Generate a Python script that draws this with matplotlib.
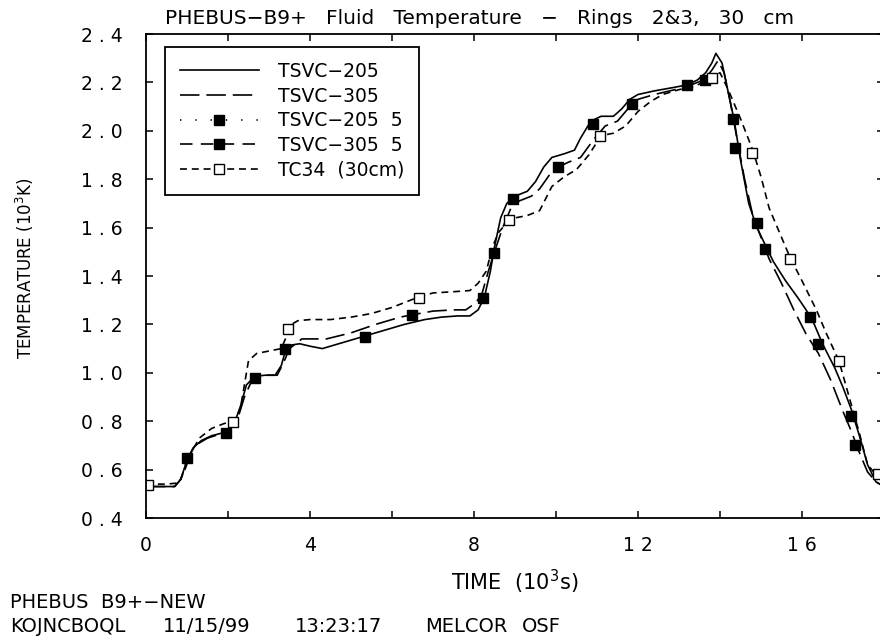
import matplotlib
matplotlib.use("Agg")
import matplotlib.pyplot as plt
from matplotlib.lines import Line2D
from matplotlib.ticker import FixedLocator, FuncFormatter

plt.rcParams['font.family'] = ['DejaVu Sans']
plt.rcParams['lines.scale_dashes'] = False

# ---- data (time in 10^3 s, temperature in 10^3 K) ----
tsvc205_t = [0, 0.7, 0.85, 1.0, 1.15, 1.35, 1.6, 1.95, 2.15, 2.3, 2.45, 2.65, 2.9, 3.15, 3.3, 3.4,
             3.55, 3.75, 4.0, 4.3, 4.7, 5.2, 5.7, 6.3, 6.8, 7.2, 7.6, 7.9, 8.1, 8.25, 8.4, 8.5,
             8.65, 8.8, 9.0, 9.3, 9.5, 9.7, 9.9, 10.2, 10.45, 10.6, 10.85, 11.1, 11.4, 11.6, 11.8,
             12.0, 12.4, 12.9, 13.2, 13.45, 13.65, 13.8, 13.9, 14.05, 14.2, 14.35, 14.5, 14.7,
             14.9, 15.1, 15.3, 15.6, 15.9, 16.1, 16.3, 16.5, 16.8, 17.0, 17.2, 17.4, 17.6, 17.8, 18.0]
tsvc205_v = [0.53, 0.53, 0.56, 0.64, 0.69, 0.72, 0.74, 0.755, 0.79, 0.86, 0.95, 0.985, 0.99, 0.99,
             1.03, 1.09, 1.115, 1.12, 1.11, 1.10, 1.12, 1.145, 1.17, 1.20, 1.22, 1.23, 1.235, 1.235,
             1.26, 1.31, 1.42, 1.52, 1.64, 1.70, 1.73, 1.75, 1.79, 1.85, 1.89, 1.905, 1.92, 1.97,
             2.04, 2.06, 2.06, 2.09, 2.13, 2.15, 2.165, 2.18, 2.19, 2.21, 2.24, 2.28, 2.32, 2.28,
             2.16, 2.04, 1.88, 1.70, 1.60, 1.53, 1.46, 1.38, 1.31, 1.26, 1.20, 1.12, 1.02, 0.94,
             0.85, 0.74, 0.62, 0.55, 0.53]

tsvc305_t = [0, 0.7, 0.85, 1.0, 1.2, 1.5, 1.95, 2.2, 2.4, 2.6, 2.9, 3.2, 3.35, 3.5, 3.8, 4.4, 5.0,
             5.6, 6.2, 6.5, 7.0, 7.5, 7.8, 8.05, 8.2, 8.35, 8.5, 8.7, 8.9, 9.1, 9.4, 9.6, 9.85,
             10.05, 10.3, 10.6, 10.9, 11.2, 11.5, 11.75, 12.0, 12.4, 12.9, 13.3, 13.6, 13.8, 13.95,
             14.1, 14.25, 14.4, 14.6, 14.8, 15.0, 15.2, 15.5, 15.8, 16.1, 16.4, 16.7, 17.0, 17.2,
             17.4, 17.6, 17.8, 18.0]
tsvc305_v = [0.53, 0.53, 0.56, 0.64, 0.70, 0.73, 0.755, 0.79, 0.90, 0.975, 0.99, 0.99, 1.04, 1.10,
             1.14, 1.14, 1.165, 1.20, 1.23, 1.24, 1.255, 1.26, 1.26, 1.29, 1.33, 1.42, 1.50, 1.60,
             1.68, 1.71, 1.73, 1.76, 1.82, 1.85, 1.87, 1.89, 1.96, 2.02, 2.04, 2.09, 2.13, 2.15,
             2.17, 2.19, 2.21, 2.25, 2.29, 2.24, 2.12, 1.98, 1.80, 1.65, 1.56, 1.47, 1.37, 1.26,
             1.16, 1.08, 0.97, 0.84, 0.76, 0.67, 0.59, 0.55, 0.53]

tsvc205_5_t = [1.0, 2.66, 5.35, 8.23, 8.95, 10.9, 13.2, 14.32, 14.9, 16.2, 17.2]
tsvc205_5_v = [0.65, 0.98, 1.15, 1.31, 1.72, 2.03, 2.19, 2.05, 1.62, 1.23, 0.82]

tsvc305_5_t = [1.95, 3.39, 6.49, 8.49, 10.05, 11.85, 13.63, 14.37, 15.1, 16.4, 17.3]
tsvc305_5_v = [0.75, 1.10, 1.24, 1.495, 1.85, 2.11, 2.21, 1.93, 1.51, 1.12, 0.70]

tc34_t = [0, 0.5, 0.8, 0.95, 1.1, 1.3, 1.6, 1.9, 2.15, 2.3, 2.4, 2.5, 2.7, 3.0, 3.3, 3.45, 3.55,
          3.7, 4.0, 4.5, 5.0, 5.5, 6.0, 6.6, 7.0, 7.5, 7.9, 8.1, 8.3, 8.45, 8.6, 8.8, 9.0, 9.3,
          9.6, 9.9, 10.2, 10.5, 10.8, 11.1, 11.4, 11.7, 12.0, 12.3, 12.6, 13.0, 13.4, 13.8, 14.0,
          14.2, 14.5, 14.8, 15.0, 15.2, 15.45, 15.7, 16.0, 16.35, 16.6, 16.9, 17.15, 17.4, 17.6,
          17.8, 18.0]
tc34_v = [0.54, 0.54, 0.545, 0.60, 0.67, 0.73, 0.77, 0.79, 0.80, 0.85, 0.95, 1.05, 1.08, 1.09,
          1.10, 1.16, 1.20, 1.215, 1.22, 1.22, 1.23, 1.245, 1.27, 1.31, 1.33, 1.335, 1.34, 1.37,
          1.42, 1.52, 1.58, 1.62, 1.64, 1.65, 1.67, 1.77, 1.81, 1.84, 1.90, 1.98, 1.99, 2.02,
          2.08, 2.12, 2.15, 2.17, 2.185, 2.22, 2.24, 2.17, 2.05, 1.92, 1.81, 1.68, 1.58, 1.48,
          1.38, 1.26, 1.16, 1.05, 0.90, 0.75, 0.62, 0.58, 0.56]

tc34_mark_t = [0.05, 2.12, 3.47, 6.67, 8.85, 11.07, 13.8, 14.78, 15.7, 16.9, 17.85]
tc34_mark_v = [0.535, 0.795, 1.18, 1.31, 1.63, 1.98, 2.22, 1.91, 1.47, 1.05, 0.58]

series_labels = ["TSVC\u2212205", "TSVC\u2212305", "TSVC\u2212205  5", "TSVC\u2212305  5", "TC34  (30cm)"]
x_ticks = [0, 2, 4, 6, 8, 10, 12, 14, 16, 18]
y_ticks = [0.4, 0.6, 0.8, 1.0, 1.2, 1.4, 1.6, 1.8, 2.0, 2.2, 2.4]

# ---- figure ----
W, H = 880, 641
fig = plt.figure(figsize=(W / 100, H / 100), dpi=100)
ax = fig.add_axes([146 / W, 1 - 518 / H, (884 - 146) / W, (518 - 34) / H])

lw = 1.2
ls_long = (0, (14, 5))
ls_short = (0, (5, 3.5))
ls_dot = (0, (1, 10))
ls_dash5 = (0, (9, 6))

ax.plot(tsvc205_t, tsvc205_v, color='black', lw=lw, ls='-')
ax.plot(tsvc305_t, tsvc305_v, color='black', lw=lw, ls=ls_long)
ax.plot(tc34_t, tc34_v, color='black', lw=lw, ls=ls_short)
ax.plot(tsvc205_5_t, tsvc205_5_v, ls='none', marker='s', ms=6.5, mfc='black', mec='black')
ax.plot(tsvc305_5_t, tsvc305_5_v, ls='none', marker='s', ms=6.5, mfc='black', mec='black')
ax.plot(tc34_mark_t, tc34_mark_v, ls='none', marker='s', ms=7, mfc='white', mec='black', mew=1.0)

ax.set_xlim(0, 18)
ax.set_ylim(0.4, 2.4)
ax.xaxis.set_major_locator(FixedLocator(x_ticks))
ax.yaxis.set_major_locator(FixedLocator(y_ticks))


def xfmt(v, pos):
    iv = int(round(v))
    if iv % 4 != 0 or iv > 16:
        return ""
    return " ".join(str(iv))


def yfmt(v, pos):
    return " . ".join(f"{v:.1f}".split("."))


ax.xaxis.set_major_formatter(FuncFormatter(xfmt))
ax.yaxis.set_major_formatter(FuncFormatter(yfmt))
ax.tick_params(direction='in', length=5, width=1.1, top=True, right=True,
               labelsize=13.5, colors='black')
ax.tick_params(axis='y', pad=17)
ax.tick_params(axis='x', pad=13)
for s in ax.spines.values():
    s.set_linewidth(1.3)

ax.set_xlabel("TIME  (10$^3$s)", fontsize=15, labelpad=9)
fig.text(25 / W, 1 - 268 / H, "TEMPERATURE (10$^3$K)", rotation=90, fontsize=12,
         ha='center', va='center')

fig.text(165 / W, 1 - 18 / H, "PHEBUS\u2212B9+   Fluid   Temperature   \u2212   Rings   2&3,   30   cm",
         fontsize=14.5, ha='left', va='center')

fig.text(10 / W, 1 - 602 / H, "PHEBUS  B9+\u2212NEW", fontsize=14, ha='left', va='center')
fig.text(10 / W, 1 - 626 / H, "KOJNCBOQL", fontsize=14, ha='left', va='center')
fig.text(163 / W, 1 - 626 / H, "11/15/99", fontsize=14, ha='left', va='center')
fig.text(295 / W, 1 - 626 / H, "13:23:17", fontsize=14, ha='left', va='center')
fig.text(425 / W, 1 - 626 / H, "MELCOR", fontsize=14, ha='left', va='center')
fig.text(522 / W, 1 - 626 / H, "OSF", fontsize=14, ha='left', va='center')

handles = [
    Line2D([], [], color='black', lw=lw, ls='-'),
    Line2D([], [], color='black', lw=lw, ls=ls_long),
    Line2D([], [], color='black', lw=lw, ls=ls_dot, marker='s', ms=6.5, mfc='black'),
    Line2D([], [], color='black', lw=lw, ls=ls_dash5, marker='s', ms=6.5, mfc='black'),
    Line2D([], [], color='black', lw=lw, ls=ls_short, marker='s', ms=7, mfc='white', mew=1.0),
]
leg = ax.legend(handles, series_labels, loc='upper left',
                bbox_to_anchor=(165 / W, 1 - 47 / H), bbox_transform=fig.transFigure,
                borderaxespad=0, fontsize=13.5, handlelength=4.2, handletextpad=1.0,
                labelspacing=0.3, borderpad=0.8, numpoints=1, fancybox=False,
                framealpha=1, edgecolor='black')
leg.get_frame().set_linewidth(1.3)

fig.savefig("out.png", dpi=100)
